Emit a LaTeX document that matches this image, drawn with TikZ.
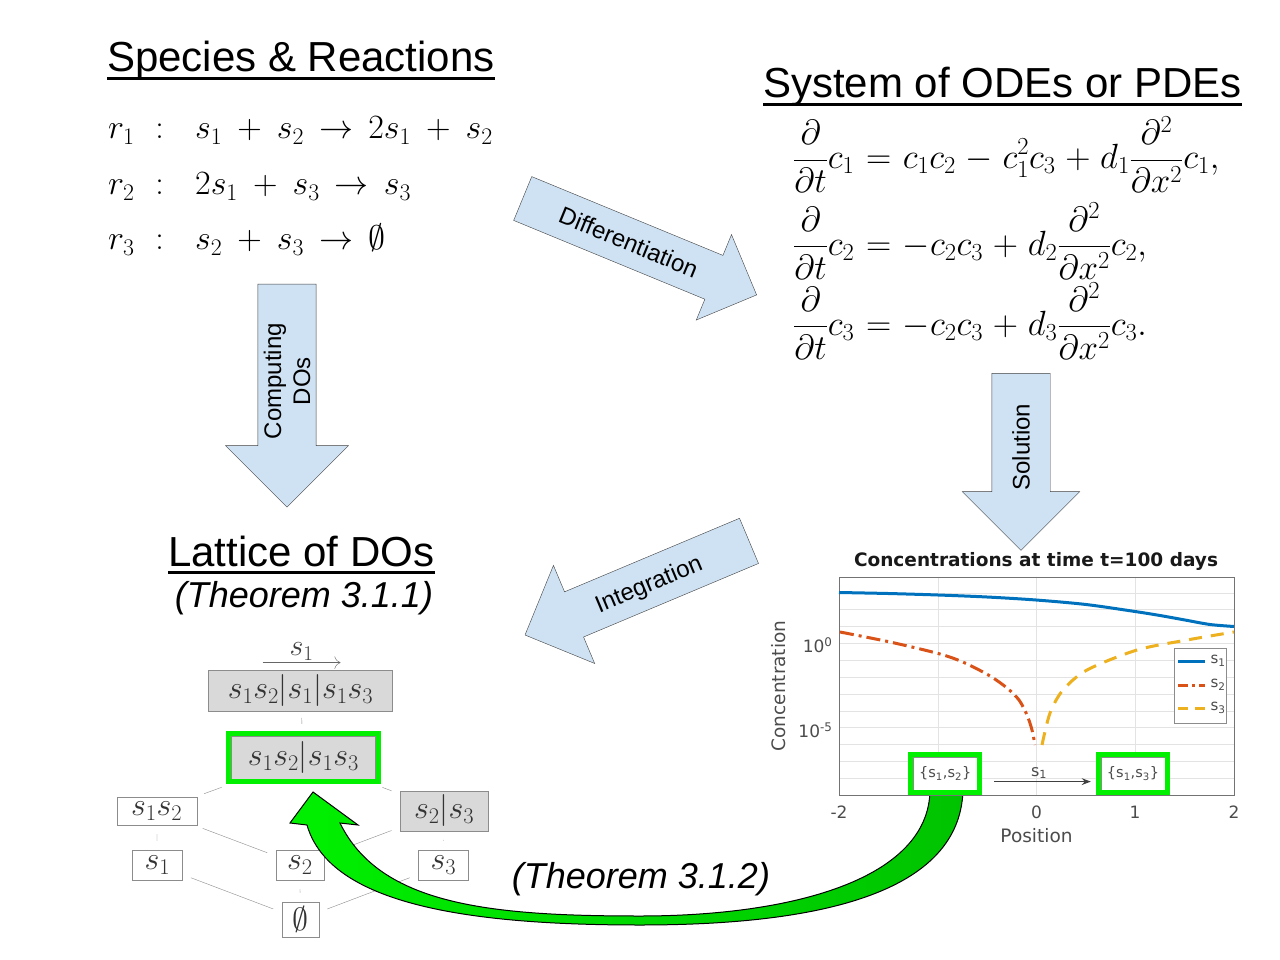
\RequirePackage{fix-cm}
\documentclass[tikz,border=0pt]{standalone}
\usepackage{fontspec}
\newfontfamily\lsans{Liberation Sans}
\newfontfamily\plotfont{DejaVu Sans}
\usetikzlibrary{shapes.arrows,fit,arrows.meta}
\definecolor{arrowblue}{RGB}{207,226,243}
\definecolor{hlgreen}{RGB}{0,240,0}
\definecolor{darkgreen}{RGB}{0,195,0}
\definecolor{mblue}{RGB}{0,114,189}
\definecolor{morange}{RGB}{217,83,25}
\definecolor{myellow}{RGB}{237,177,32}
\definecolor{latgray}{RGB}{217,217,217}

\begin{document}
\begin{tikzpicture}[x=1pt,y=-1pt,
 heading/.style={anchor=base west, inner sep=0pt, font=\lsans\fontsize{42}{50}\selectfont},
 thm/.style={anchor=base, inner sep=0pt, font=\lsans\itshape\fontsize{36}{42}\selectfont},
 reac/.style={anchor=base west, inner sep=0pt, font=\fontsize{34}{40}\selectfont,
   execute at begin node={\medmuskip=8mu\thickmuskip=8mu}},
 ode/.style={anchor=base west, inner sep=0pt, font=\fontsize{35}{42}\selectfont,
   execute at begin node={\medmuskip=5mu\thickmuskip=6mu}},
 bigarrow/.style={single arrow, draw=black!75, fill=arrowblue, single arrow tip angle=90, inner xsep=1pt, inner ysep=0pt, align=center, font=\lsans\fontsize{24}{29}\selectfont},
 dobox/.style={draw=black!45, fill=white, text=black!80, inner sep=0pt, font=\fontsize{32}{36}\selectfont},
 dogray/.style={dobox, fill=latgray},
 latedge/.style={draw=black!45, shorten <=9pt, shorten >=9pt},
 hl/.style={draw=hlgreen, line width=5pt, inner sep=2.5pt},
 plottext/.style={font=\plotfont\fontsize{17}{20}\selectfont, text=black!70},
 curve/.style={line width=3pt, line join=round}]
\path[use as bounding box, fill=white] (0,0) rectangle (1280,960);

% species and reactions
\node[heading] (spec) at (107,72) {Species \& Reactions};
\draw[line width=2.6pt] ([yshift=-6.5pt]spec.base west) -- ([yshift=-6.5pt]spec.base east);
\node[reac] (r1) at (108,139) {$r_1\,:$};
\node[reac] (r2) at (108,195) {$r_2\,:$};
\node[reac] (r3) at (108,250) {$r_3\,:$};
\node[reac] (react1) at (195,139) {$s_1+s_2\to 2s_1+s_2$};
\node[reac] (react2) at (195,195) {$2s_1+s_3\to s_3$};
\node[reac] (react3) at (195,250) {$s_2+s_3\to \emptyset$};

% system of equations
\node[heading] (sys) at (763,98) {System of ODEs or PDEs};
\draw[line width=2.6pt] ([yshift=-6.5pt]sys.base west) -- ([yshift=-6.5pt]sys.base east);
\node[ode] (ode1) at (793,168.5) {$\displaystyle\frac{\partial}{\partial t}c_1=c_1c_2-c_1^2c_3+d_1\frac{\partial^2}{\partial x^2}c_1,$};
\node[ode] (ode2) at (793,255) {$\displaystyle\frac{\partial}{\partial t}c_2=-c_2c_3+d_2\frac{\partial^2}{\partial x^2}c_2,$};
\node[ode] (ode3) at (793,335) {$\displaystyle\frac{\partial}{\partial t}c_3=-c_2c_3+d_3\frac{\partial^2}{\partial x^2}c_3.$};

% block arrows
\node[bigarrow, rotate=90, shape border rotate=180, inner ysep=4pt, minimum height=223, minimum width=123, single arrow head extend=30.5] (compute) at (287,381) {Computing\\DOs};
\node[bigarrow, rotate=-22.4, text height=32pt, text depth=15pt, minimum height=253, minimum width=92, single arrow head extend=22.5] (diff) at (628.7,242.2) {Differentiation};
\node[bigarrow, rotate=90, shape border rotate=180, text height=37.5pt, text depth=20.5pt, minimum height=177, minimum width=117, single arrow head extend=29.5] (solve) at (1021,447.2) {Solution};
\node[bigarrow, rotate=22.8, shape border rotate=180, text height=32.8pt, text depth=15.8pt, minimum height=243, minimum width=106, single arrow head extend=28.7] (integ) at (648.3,583.2) {Integration};

% lattice of DOs
\node[heading] (lat) at (168,566) {Lattice of DOs};
\draw[line width=2.6pt] ([yshift=-6.5pt]lat.base west) -- ([yshift=-6.5pt]lat.base east);
\node[thm] (thm1) at (304,607) {(Theorem 3.1.1)};
\node[dogray, minimum width=184, minimum height=41] (top) at (300.5,690.3) {$s_1s_2|s_1|s_1s_3$};
\node[dogray, minimum width=144, minimum height=43] (mid) at (303.4,757.5) {$s_1s_2|s_1s_3$};
\node[hl, fit=(mid)] (midhl) {};
\node[dobox, minimum width=80, minimum height=28] (s12) at (156.7,811) {$s_1s_2$};
\node[dogray, minimum width=88, minimum height=40] (s23) at (444.2,810.7) {$s_2|s_3$};
\node[dobox, minimum width=50, minimum height=30] (s1) at (157.3,865) {$s_1$};
\node[dobox, minimum width=48, minimum height=30] (s2) at (299.8,865) {$s_2$};
\node[dobox, minimum width=50, minimum height=30] (s3) at (443.3,865) {$s_3$};
\node[dobox, minimum width=37, minimum height=35] (empty) at (300.3,919.2) {$\emptyset$};
\draw[latedge, shorten <=7pt, shorten >=7pt] (top) -- (midhl);
\foreach \a/\b in {midhl/s12, midhl/s23, s12/s1, s12/s2, s23/s2, s23/s3, s1/empty, s2/empty, s3/empty}
  \draw[latedge] (\a) -- (\b);
\draw[-{To[length=6pt]}, black!60] ([xshift=-38pt,yshift=7pt]top.north) -- node[above, inner sep=2pt, text=black!75, font=\fontsize{30}{34}\selectfont] (tops1) {$s_1$} ([xshift=40pt,yshift=7pt]top.north);

% green arrow back to the lattice
\draw[black, line width=1pt, left color=hlgreen, right color=darkgreen] (930,790) -- (963,790)
  .. controls (960,900) and (800,925) .. (640,925) .. controls (470,925) and (330,905) .. (307,825)
  -- (290,823) -- (313,792) -- (358,825) -- (340,823)
  .. controls (380,905) and (490,916) .. (640,916) .. controls (790,916) and (929,880) .. (930,790) -- cycle;
\node[thm] (thm2) at (641,888) {(Theorem 3.1.2)};

% plot
\node[font=\plotfont\bfseries\fontsize{18.5}{22}\selectfont, text=black!90] (ptitle) at (1036,561) {Concentrations at time t=100 days};
\foreach \x in {938,1036.5,1135}
  \draw[gray!22] (\x,576.7) -- (\x,795);
\foreach \k in {-3,...,8}
  \draw[gray!22] (839,{643.3+16.85*\k}) -- (1234,{643.3+16.85*\k});
\draw[black!55] (839,576.7) rectangle (1234,795);
\node[plottext] (xm2) at (839,812) {-2};
\node[plottext] (x0) at (1036.5,812) {0};
\node[plottext] (x1) at (1135,812) {1};
\node[plottext] (x2) at (1234,812) {2};
\node[plottext, anchor=east] (ye0) at (836,645) {10\textsuperscript{0}};
\node[plottext, anchor=east] (ye5) at (836,730) {10\textsuperscript{-5}};
\node[plottext, font=\plotfont\fontsize{18.5}{22}\selectfont] (xlabel) at (1036.5,836) {Position};
\node[plottext, font=\plotfont\fontsize{18.5}{22}\selectfont, rotate=90] (ylabel) at (779,686) {Concentration};
\draw[curve, mblue] plot[smooth] coordinates {(839,592.5) (888,593.5) (938,595) (987,597) (1036,600) (1086,604.5) (1135,611.5) (1160,615.5) (1185,620) (1210,624.5) (1234,626.5)};
\draw[curve, morange, dash pattern=on 14pt off 5pt on 3pt off 5pt] plot[smooth] coordinates {(840,632) (890,642) (940,654) (965,663) (990,676) (1007,688) (1019,700) (1027,715) (1032,730) (1035,745)};
\draw[curve, myellow, dash pattern=on 13pt off 9pt] plot[smooth] coordinates {(1042,745) (1050,713) (1063,690) (1087,670) (1137,650) (1187,640) (1234,632)};
\node[draw=black!45, fill=white, minimum width=52, minimum height=75, inner sep=0pt] (legend) at (1200,685.5) {};
\draw[curve, mblue] (1178,661) -- (1205,661);
\draw[curve, morange, dash pattern=on 10pt off 4pt on 3pt off 4pt] (1178,685) -- (1205,685);
\draw[curve, myellow, dash pattern=on 10pt off 7pt] (1178,708) -- (1205,708);
\node[plottext, anchor=west, font=\plotfont\fontsize{15}{18}\selectfont] (leg1) at (1207,661) {s\textsubscript{1}};
\node[plottext, anchor=west, font=\plotfont\fontsize{15}{18}\selectfont] (leg2) at (1207,685) {s\textsubscript{2}};
\node[plottext, anchor=west, font=\plotfont\fontsize{15}{18}\selectfont] (leg3) at (1207,708) {s\textsubscript{3}};
\node[plottext, draw=black!45, fill=white, minimum width=64, minimum height=33, inner sep=0pt, font=\plotfont\fontsize{14.5}{16}\selectfont] (c12) at (945.2,773.6) {\{s\textsubscript{1},s\textsubscript{2}\}};
\node[hl, fit=(c12)] (c12hl) {};
\node[plottext, draw=black!45, fill=white, minimum width=64, minimum height=33, inner sep=0pt, font=\plotfont\fontsize{14.5}{16}\selectfont] (c13) at (1133,773.6) {\{s\textsubscript{1},s\textsubscript{3}\}};
\node[hl, fit=(c13)] (c13hl) {};
\draw[-{Stealth[length=9pt]}, black!75, line width=1.3pt, shorten <=12pt, shorten >=5pt] ([yshift=-8pt]c12hl.east) -- node[above, plottext, inner sep=2pt, font=\plotfont\fontsize{16}{18}\selectfont] (arrs1) {s\textsubscript{1}} ([yshift=-8pt]c13hl.west);
\end{tikzpicture}
\end{document}
